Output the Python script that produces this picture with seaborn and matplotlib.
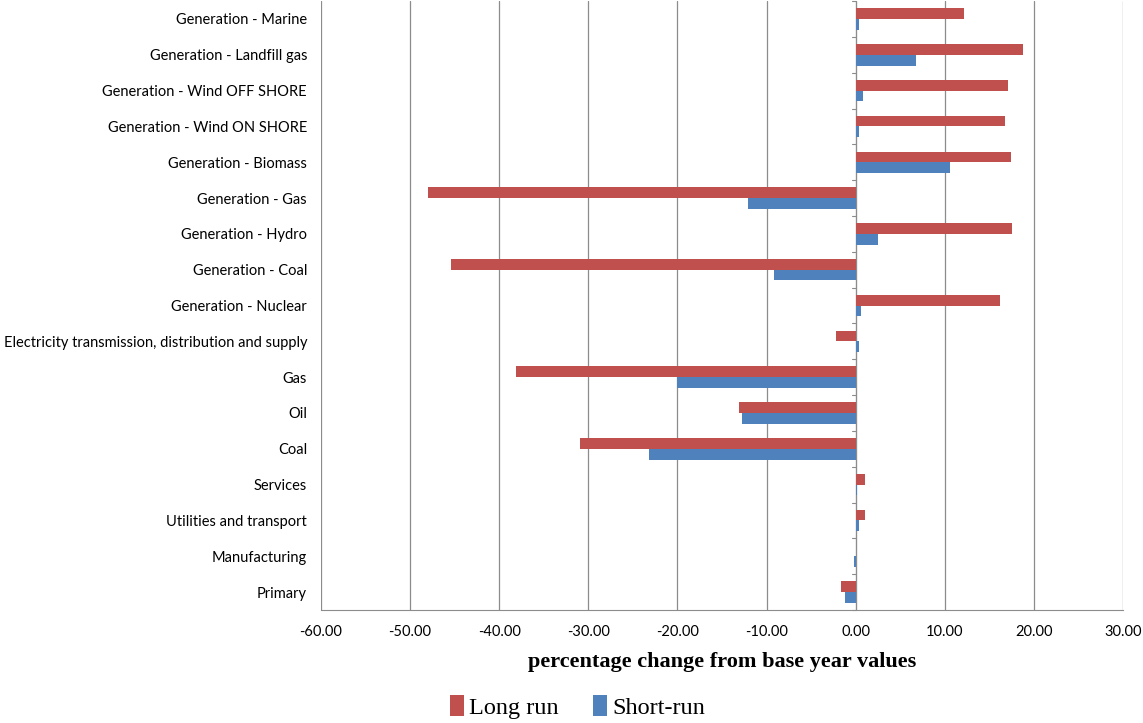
import pandas as pd
import matplotlib
matplotlib.use("Agg")
import matplotlib.pyplot as plt
import seaborn as sns
from matplotlib.ticker import FormatStrFormatter

# sectors, top to bottom as in the chart
sectors = [
    "Generation - Marine",
    "Generation - Landfill gas",
    "Generation - Wind OFF SHORE",
    "Generation - Wind ON SHORE",
    "Generation - Biomass",
    "Generation - Gas",
    "Generation - Hydro",
    "Generation - Coal",
    "Generation - Nuclear",
    "Electricity transmission, distribution and supply",
    "Gas",
    "Oil",
    "Coal",
    "Services",
    "Utilities and transport",
    "Manufacturing",
    "Primary",
]
long_run = [12.2, 18.8, 17.1, 16.8, 17.4, -48.0, 17.5, -45.4, 16.2,
            -2.2, -38.1, -13.1, -30.9, 1.1, 1.1, 0.0, -1.7]
short_run = [0.35, 6.8, 0.8, 0.4, 10.6, -12.1, 2.5, -9.2, 0.6,
             0.4, -20.0, -12.8, -23.2, 0.2, 0.4, -0.2, -1.2]
x_ticks = [-60, -50, -40, -30, -20, -10, 0, 10, 20, 30]

df = pd.DataFrame({
    "sector": sectors * 2,
    "value": long_run + short_run,
    "run": ["Long run"] * len(sectors) + ["Short-run"] * len(sectors),
})

sns.set_style("white")
plt.rcParams["font.family"] = ["Lato", "DejaVu Sans"]
plt.rcParams["text.color"] = "black"
plt.rcParams["xtick.color"] = "black"
plt.rcParams["ytick.color"] = "black"

fig = plt.figure(figsize=(11.43, 7.23), dpi=100)
ax = fig.add_axes([0.2808, 0.1563, 0.7017, 0.8422])

sns.barplot(data=df, x="value", y="sector", hue="run", orient="h",
            order=sectors, hue_order=["Long run", "Short-run"],
            palette=["#C0504D", "#4F81BD"], saturation=1, width=0.6, ax=ax,
            edgecolor="none", errorbar=None)

ax.set_xlim(-60, 30)
ax.set_xticks(x_ticks)
ax.xaxis.set_major_formatter(FormatStrFormatter("%.2f"))
ax.grid(axis="x", color="#8c8c8c", linewidth=0.9)
ax.set_axisbelow(True)
for s in ["top", "right", "left"]:
    ax.spines[s].set_visible(False)
ax.spines["bottom"].set_color("#8c8c8c")
ax.tick_params(axis="x", direction="out", length=5, color="#8c8c8c",
               labelsize=10.5, pad=6, labelcolor="black")
ax.tick_params(axis="y", length=0, labelsize=10.5, pad=10, labelcolor="black")

# vertical axis at zero with category tick marks
ax.axvline(0, color="#a0a0a0", linewidth=0.8, zorder=0)
for b in range(len(sectors) + 1):
    ax.plot([-0.45, 0], [b - 0.5, b - 0.5], color="#8c8c8c", lw=0.8,
            clip_on=False, zorder=1)
ax.set_ylim(len(sectors) - 0.5, -0.5)

ax.set_ylabel("")
ax.set_xlabel("percentage change from base year values",
              fontfamily="Liberation Serif", fontweight="bold", fontsize=16,
              labelpad=9, color="black")

ax.get_legend().remove()
handles, labels = ax.get_legend_handles_labels()
fig.legend(handles, labels, loc="center", bbox_to_anchor=(0.505, 0.022), ncol=2,
           frameon=False, prop={"family": "Liberation Serif", "size": 17.5},
           handlelength=0.6, handleheight=0.9, handletextpad=0.2,
           columnspacing=1.4)

fig.savefig("out.png", dpi=100)
